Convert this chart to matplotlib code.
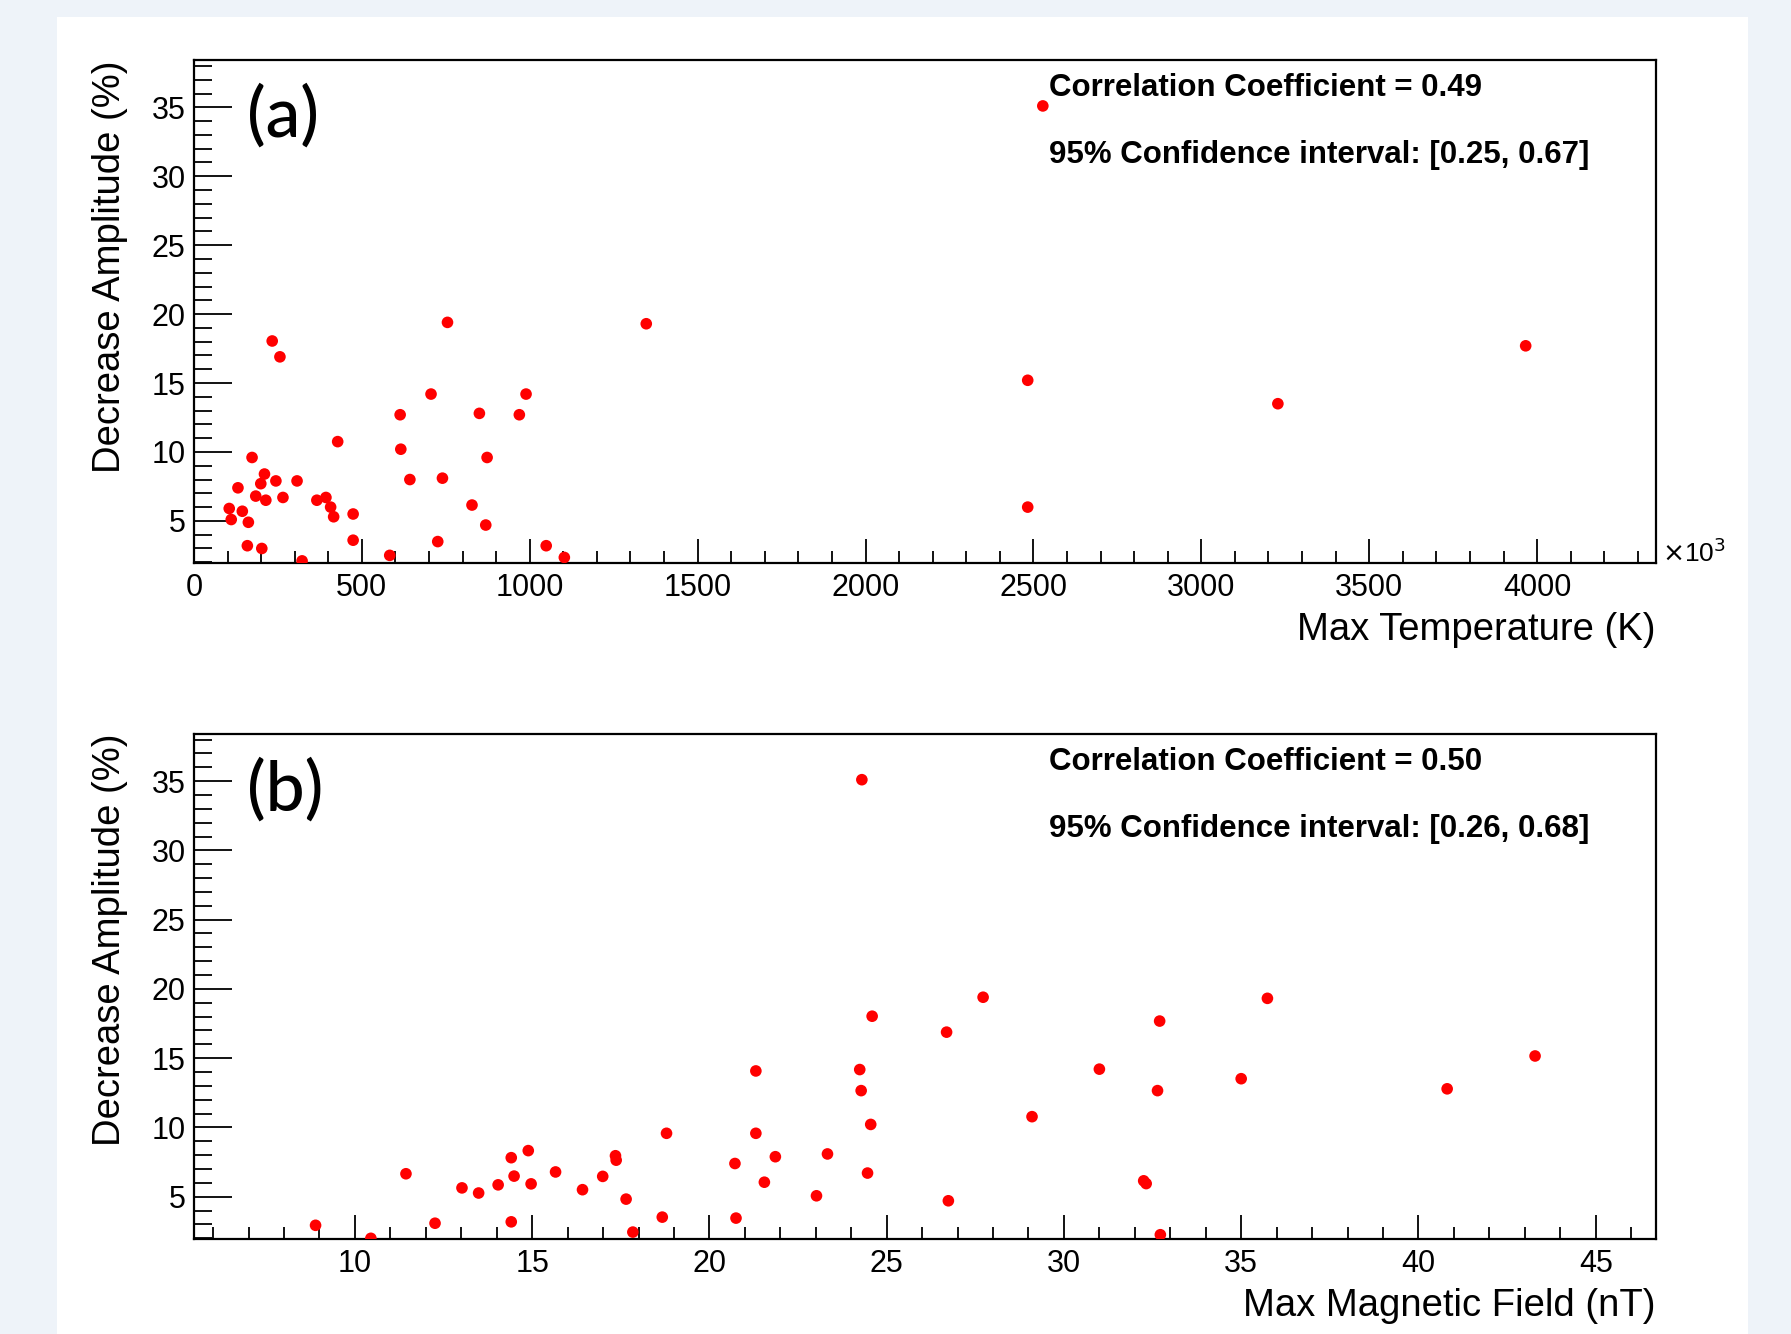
"""
Decrease amplitude vs max temperature / max magnetic field (ROOT-like style).
"""

import matplotlib
matplotlib.use("Agg")
import matplotlib.pyplot as plt
from matplotlib.patches import Rectangle
from matplotlib.ticker import MultipleLocator

# Panel (a): max temperature (K) vs decrease amplitude (%)
temp_a = [105, 111, 131, 144, 162, 159, 173, 184, 202, 199, 210, 214, 233,
          244, 256, 265, 307, 322, 366, 393, 407, 416, 428, 474, 474, 583,
          614, 616, 643, 706, 726, 740, 755, 828, 850, 869, 873, 969, 989,
          1049, 1103, 1347, 2528, 2483, 2483, 3228, 3966]
amp_a = [5.9, 5.1, 7.4, 5.7, 4.9, 3.2, 9.6, 6.8, 3.0, 7.7, 8.4, 6.5, 18.05,
         7.9, 16.9, 6.7, 7.9, 2.1, 6.5, 6.7, 6.0, 5.3, 10.75, 5.5, 3.6, 2.5,
         12.7, 10.2, 8.0, 14.2, 3.5, 8.1, 19.4, 6.15, 12.8, 4.7, 9.6, 12.7,
         14.2, 3.2, 2.35, 19.3, 35.1, 15.2, 6.0, 13.5, 17.7]

# Panel (b): max magnetic field (nT) vs decrease amplitude (%)
field_b = [8.89, 10.45, 11.44, 12.26, 13.02, 13.49, 14.04, 14.41, 14.41,
           14.49, 14.89, 14.97, 15.66, 16.42, 16.99, 17.35, 17.37, 17.65,
           17.84, 18.67, 18.79, 20.72, 20.75, 21.31, 21.31, 21.55, 21.86,
           23.02, 23.33, 24.24, 24.28, 24.30, 24.46, 24.55, 24.59, 26.69,
           26.74, 27.72, 29.10, 31.0, 32.25, 32.32, 32.64, 32.70, 32.72,
           35.0, 35.74, 40.81, 43.29]
amp_b = [2.94, 2.0, 6.66, 3.09, 5.64, 5.27, 5.86, 7.82, 3.19, 6.49, 8.33,
         5.93, 6.79, 5.51, 6.47, 7.96, 7.64, 4.83, 2.45, 3.53, 9.58, 7.40,
         3.46, 14.08, 9.58, 6.05, 7.89, 5.07, 8.09, 14.18, 12.66, 35.1, 6.71,
         10.22, 18.03, 16.88, 4.71, 19.40, 10.78, 14.21, 6.15, 5.95, 12.66,
         17.68, 2.26, 13.52, 19.32, 12.79, 15.16]

stats_a = ["Correlation Coefficient = 0.49",
           "95% Confidence interval: [0.25, 0.67]"]
stats_b = ["Correlation Coefficient = 0.50",
           "95% Confidence interval: [0.26, 0.68]"]

OUTER_BG = "#eef3f9"
MARKER = "#ff0000"
SANS = ["Liberation Sans", "DejaVu Sans"]

plt.rcParams["font.family"] = SANS


def _style_ax(ax, xmajor, xminor):
    """ROOT-ish frame: inward ticks on left/bottom only."""
    for spine in ax.spines.values():
        spine.set_linewidth(1.6)
    ax.yaxis.set_major_locator(MultipleLocator(5))
    ax.yaxis.set_minor_locator(MultipleLocator(1))
    ax.xaxis.set_major_locator(MultipleLocator(xmajor))
    ax.xaxis.set_minor_locator(MultipleLocator(xminor))
    ax.tick_params(axis="y", which="major", direction="in", length=27,
                   width=1.3, pad=6, labelsize=22)
    ax.tick_params(axis="y", which="minor", direction="in", length=13,
                   width=1.3)
    ax.tick_params(axis="x", which="major", direction="in", length=17,
                   width=1.3, pad=7, labelsize=22)
    ax.tick_params(axis="x", which="minor", direction="in", length=8.5,
                   width=1.3)
    ax.set_ylim(1.95, 38.4)


def _annotate(ax, tag, stats, xlabel):
    ax.text(0.036, 0.888, tag, transform=ax.transAxes, fontsize=50,
            family=["Lato", "DejaVu Sans"], fontweight="medium",
            ha="left", va="center")
    ax.text(0.585, 0.929, stats[0], transform=ax.transAxes, fontsize=22.5,
            fontweight="bold", ha="left", va="baseline")
    ax.text(0.585, 0.796, stats[1], transform=ax.transAxes, fontsize=22.5,
            fontweight="bold", ha="left", va="baseline")
    ax.text(-0.0575, 1.0, "Decrease Amplitude (%)", transform=ax.transAxes,
            rotation=90, fontsize=27.5, ha="center", va="top")
    ax.text(1.0, -0.153, xlabel, transform=ax.transAxes, fontsize=27.5,
            ha="right", va="baseline")


fig = plt.figure(figsize=(17.91, 13.34), dpi=100)
fig.patch.set_facecolor(OUTER_BG)
fig.patches.append(Rectangle((0.0318, 0.0), 0.9442, 0.9873,
                             transform=fig.transFigure, facecolor="white",
                             edgecolor="none", zorder=-10))

# (a) temperature
ax1 = fig.add_axes([0.1083, 0.578, 0.8163, 0.3767])
ax1.scatter(temp_a, amp_a, s=70, color=MARKER, edgecolors="none", zorder=3)
ax1.set_xlim(0, 4354)
_style_ax(ax1, 500, 100)
_annotate(ax1, "(a)", stats_a, "Max Temperature (K)")
ax1.text(1.004, 0.02, r"$\times$10$^{3}$", transform=ax1.transAxes,
         fontsize=19, ha="left", va="center")

# (b) magnetic field
ax2 = fig.add_axes([0.1083, 0.0712, 0.8163, 0.3786])
ax2.scatter(field_b, amp_b, s=70, color=MARKER, edgecolors="none", zorder=3)
ax2.set_xlim(5.46, 46.7)
_style_ax(ax2, 5, 1)
_annotate(ax2, "(b)", stats_b, "Max Magnetic Field (nT)")

fig.savefig("out.png", dpi=100, facecolor=fig.get_facecolor())
plt.close(fig)
